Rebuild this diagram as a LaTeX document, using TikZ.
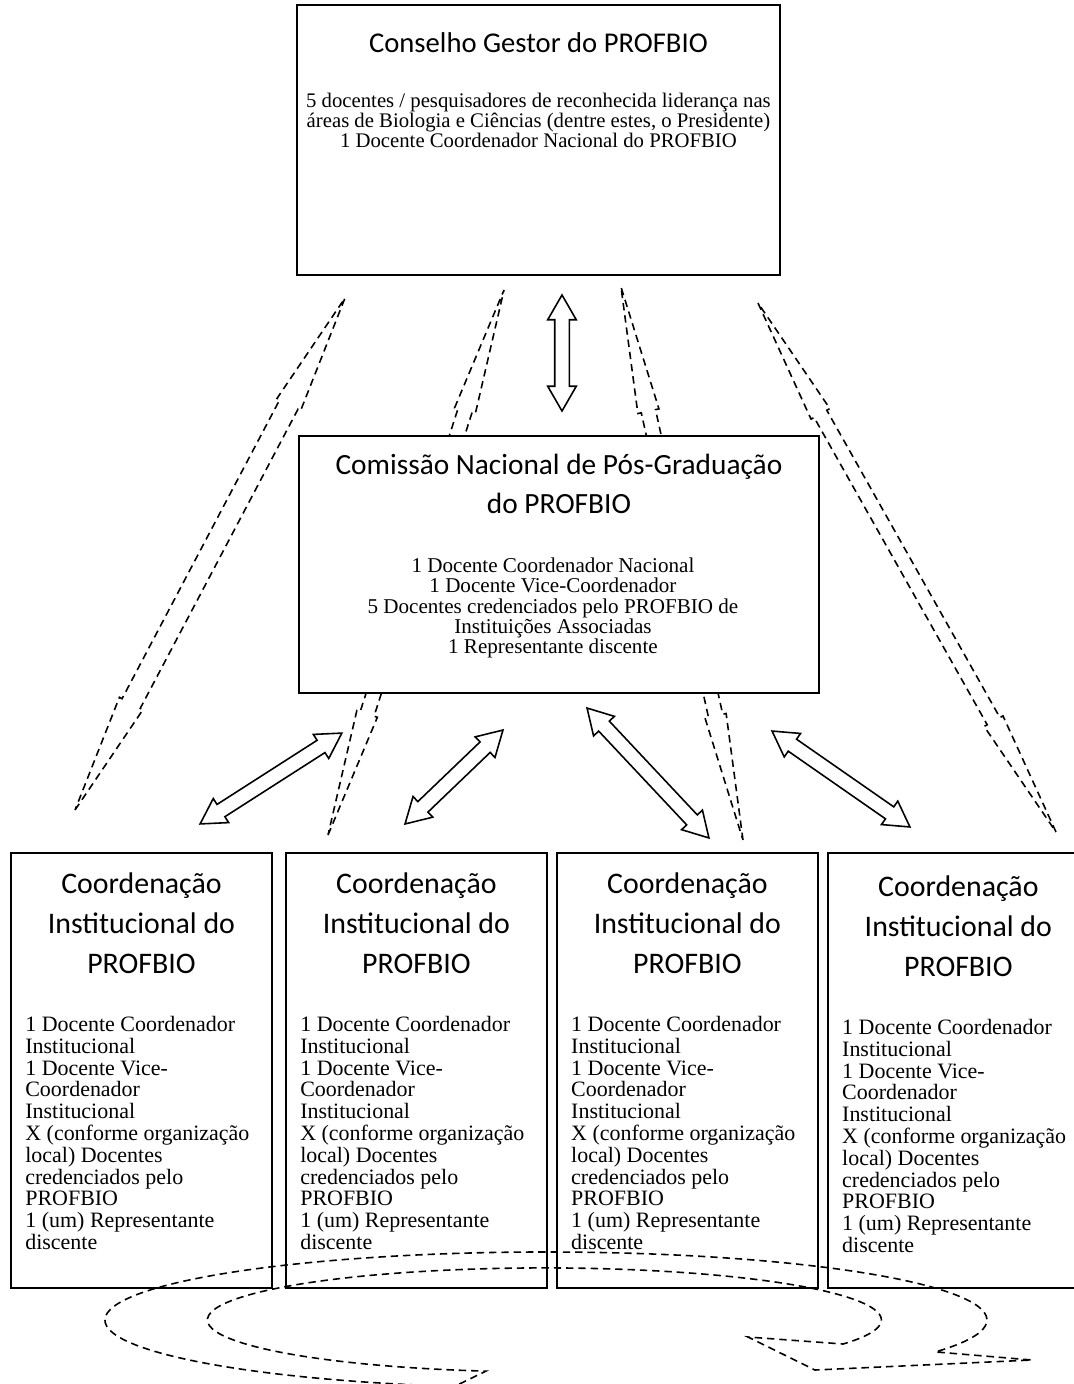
\documentclass[tikz,border=0pt]{standalone}
\usepackage{fontspec}
\setmainfont{Liberation Serif}
\newfontfamily\headfont{Carlito}
\usetikzlibrary{shapes.arrows,positioning,calc}

% band arrow laid between two named points
\newcommand{\bandarrow}[4][]{%
  \path let \p1=($(#3)-(#2)$) in
    node[#1, minimum height={veclen(\x1,\y1)}, rotate={atan2(\y1,\x1)}]
      (#4) at ($(#2)!0.5!(#3)$) {};}

\newcommand{\insttitle}{Coordena\c{c}\~ao\\Institucional do\\PROFBIO}
\newcommand{\instbody}{1 Docente Coordenador\\Institucional\\1 Docente Vice-\\Coordenador\\Institucional\\X (conforme organiza\c{c}\~ao\\local) Docentes\\credenciados pelo\\PROFBIO\\1 (um) Representante\\discente}

\tikzset{
  box/.style={draw, line width=1.1pt, fill=white, inner sep=0pt, outer sep=0pt, anchor=north west},
  head/.style={inner sep=0pt, anchor=north, align=center, font=\headfont\fontsize{16.3}{22.8}\selectfont},
  insthead/.style={head, font=\headfont\fontsize{17}{22.8}\selectfont},
  bighead/.style={head, font=\headfont\fontsize{16.7}{22.2}\selectfont},
  body/.style={inner sep=0pt, anchor=north, align=center, font=\fontsize{11.8}{11.4}\selectfont},
  list/.style={inner sep=0pt, anchor=north west, align=left, font=\fontsize{12.5}{12.4}\selectfont},
  hollow/.style={double arrow, draw, fill=white, line width=0.9pt, inner xsep=0pt, inner ysep=0.13cm,
    minimum width=0pt, double arrow head extend=0.14cm, double arrow tip angle=60},
  ghost/.style={double arrow, draw, dash pattern=on 4.2pt off 2.8pt, line width=0.9pt,
    inner xsep=0pt, inner ysep=0.13cm, minimum width=0pt, double arrow head extend=0.07cm,
    double arrow tip angle=9.7},
}

\begin{document}
\begin{tikzpicture}[x=0.02cm, y=-0.02cm]
  \fill[white] (0,0) rectangle (1074,1384);
  \useasboundingbox (0,0) rectangle (1074,1384);
  \clip (0,0) rectangle (1074,1384);

  % dashed links, behind the boxes
  \coordinate (d1a) at (345,298);
  \coordinate (d1b) at (75,810);
  \coordinate (d2a) at (504,290);
  \coordinate (d2b) at (328,835);
  \coordinate (d3a) at (621,287);
  \coordinate (d3b) at (743,840);
  \coordinate (d4a) at (758,303);
  \coordinate (d4b) at (1056,832);
  \bandarrow[ghost, inner ysep=0.19cm, double arrow head extend=0.06cm, double arrow tip angle=12.6]{d1a}{d1b}{link1}
  \bandarrow[ghost]{d2a}{d2b}{link2}
  \bandarrow[ghost]{d3a}{d3b}{link3}
  \bandarrow[ghost]{d4a}{d4b}{link4}

  % boxes
  \node[box, minimum width=9.66cm, minimum height=5.4cm] (gestor) at (297,5) {};
  \node[head, below=0.55cm of gestor.north] (gestortitle) {Conselho Gestor do PROFBIO};
  \node[body, below=1.76cm of gestor.north] (gestorbody)
    {5 docentes / pesquisadores de reconhecida lideran\c{c}a nas\\
     \'areas de Biologia e Ci\^encias (dentre estes, o Presidente)\\
     1 Docente Coordenador Nacional do PROFBIO};

  \node[box, minimum width=10.4cm, minimum height=5.14cm] (comissao) at (299,436) {};
  \node[bighead, below=0.36cm of comissao.north] (comissaotitle)
    {Comiss\~ao Nacional de P\'os-Gradua\c{c}\~ao\\do PROFBIO};
  \node[body, font=\fontsize{12}{11.4}\selectfont, below=2.44cm of comissao.north, xshift=-0.12cm] (comissaobody)
    {1 Docente Coordenador Nacional\\
     1 Docente Vice-Coordenador\\
     5 Docentes credenciados pelo PROFBIO de\\
     Institui\c{c}\~oes Associadas\\
     1 Representante discente};

  \node[box, minimum width=5.22cm, minimum height=8.7cm] (inst1) at (11,853) {};
  \node[box, minimum width=5.22cm, minimum height=8.7cm, right=0.28cm of inst1] (inst2) {};
  \node[box, minimum width=5.22cm, minimum height=8.7cm, right=0.2cm of inst2] (inst3) {};
  \node[box, minimum width=5.22cm, minimum height=8.7cm, right=0.2cm of inst3] (inst4) {};
  \node[insthead, below=0.39cm of inst1.north] (inst1title) {\insttitle};
  \node[insthead, below=0.39cm of inst2.north] (inst2title) {\insttitle};
  \node[insthead, below=0.39cm of inst3.north] (inst3title) {\insttitle};
  \node[insthead, below=0.45cm of inst4.north] (inst4title) {\insttitle};
  \node[list, below right=3.26cm and 0.28cm of inst1.north west] (inst1body) {\instbody};
  \node[list, below right=3.26cm and 0.28cm of inst2.north west] (inst2body) {\instbody};
  \node[list, below right=3.26cm and 0.28cm of inst3.north west] (inst3body) {\instbody};
  \node[list, below right=3.32cm and 0.28cm of inst4.north west] (inst4body) {\instbody};

  % two-way links
  \coordinate (v1a) at (562,295);
  \coordinate (v1b) at (562,411);
  \coordinate (a1a) at (200,824);
  \coordinate (a1b) at (342,733);
  \coordinate (a2a) at (405,824);
  \coordinate (a2b) at (503,730);
  \coordinate (a3a) at (587,708);
  \coordinate (a3b) at (709,838);
  \coordinate (a4a) at (772,731);
  \coordinate (a4b) at (910,827);
  \bandarrow[hollow]{v1a}{v1b}{up}
  \bandarrow[hollow]{a1a}{a1b}{down1}
  \bandarrow[hollow]{a2a}{a2b}{down2}
  \bandarrow[hollow]{a3a}{a3b}{down3}
  \bandarrow[hollow]{a4a}{a4b}{down4}

  % circular arrow under the institutions
  \draw[dash pattern=on 4.2pt off 2.8pt, line width=0.9pt]
    (454.3,1386.5) arc[start angle=102, end angle=388, x radius=441, y radius=68]
    -- (1032,1360) -- (815,1370) -- (748,1337) -- (843,1344)
    arc[start angle=387.6, end angle=100, x radius=337, y radius=52] -- cycle;
\end{tikzpicture}
\end{document}
